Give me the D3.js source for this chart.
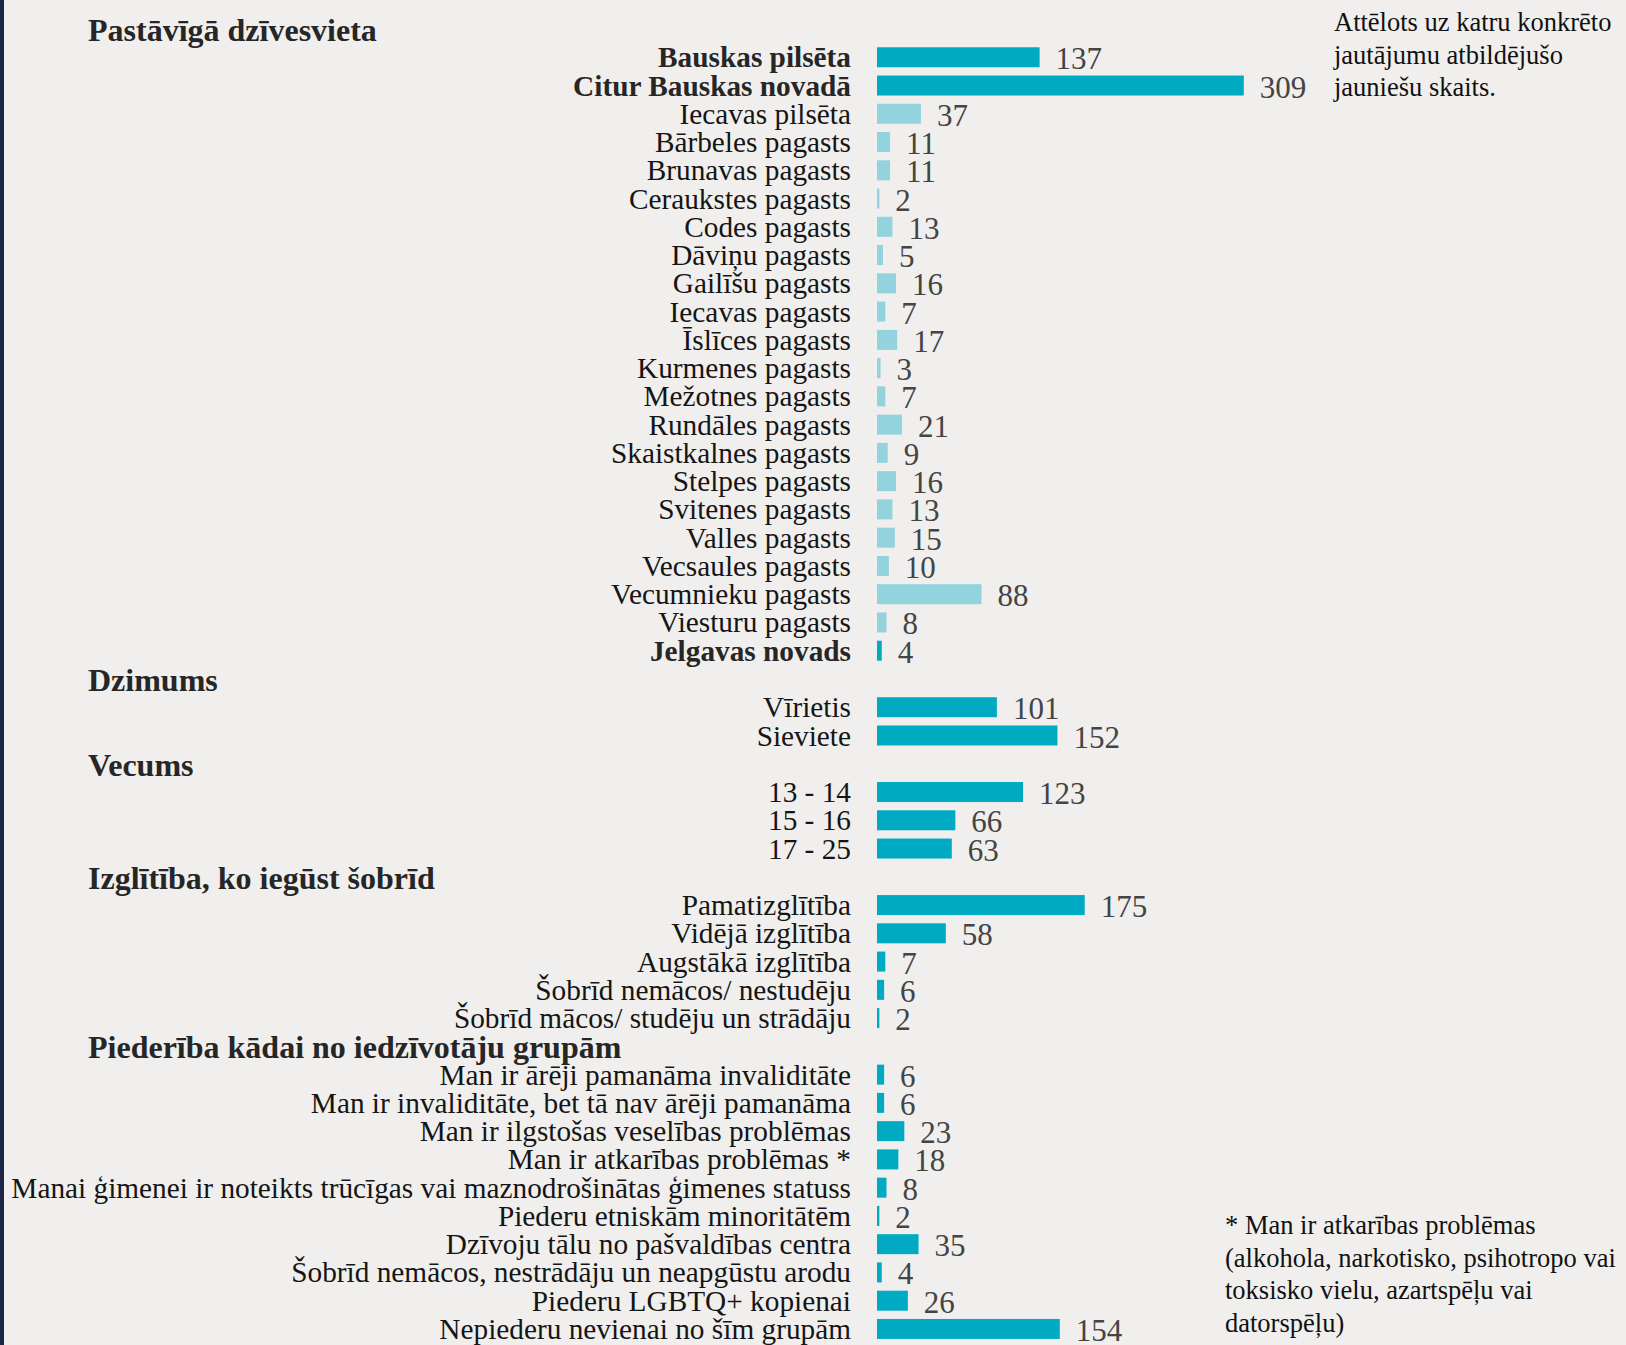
<!DOCTYPE html>
<html>
<head>
<meta charset="utf-8">
<script src="https://cdn.jsdelivr.net/npm/d3@7"></script>
<style>
  html, body { margin: 0; padding: 0; background: #F0EFED; }
  svg { display: block; }
</style>
</head>
<body>
<svg id="chart" width="1626" height="1345"></svg>
<script>
// ---- Data ----
const sectionTitles = ["Pastāvīgā dzīvesvieta", "Dzimums", "Vecums", "Izglītība, ko iegūst šobrīd", "Piederība kādai no iedzīvotāju grupām"];

const residenceLabels = ["Bauskas pilsēta", "Citur Bauskas novadā", "Iecavas pilsēta", "Bārbeles pagasts", "Brunavas pagasts", "Ceraukstes pagasts", "Codes pagasts", "Dāviņu pagasts", "Gailīšu pagasts", "Iecavas pagasts", "Īslīces pagasts", "Kurmenes pagasts", "Mežotnes pagasts", "Rundāles pagasts", "Skaistkalnes pagasts", "Stelpes pagasts", "Svitenes pagasts", "Valles pagasts", "Vecsaules pagasts", "Vecumnieku pagasts", "Viesturu pagasts", "Jelgavas novads"];
const residenceValues = [137, 309, 37, 11, 11, 2, 13, 5, 16, 7, 17, 3, 7, 21, 9, 16, 13, 15, 10, 88, 8, 4];
// hierarchy level: 0 = main area, 1 = sub-area of "Citur Bauskas novadā"
const residenceLevel = [0, 0, 1, 1, 1, 1, 1, 1, 1, 1, 1, 1, 1, 1, 1, 1, 1, 1, 1, 1, 1, 0];

const genderLabels = ["Vīrietis", "Sieviete"];
const genderValues = [101, 152];

const ageLabels = ["13 - 14", "15 - 16", "17 - 25"];
const ageValues = [123, 66, 63];

const educationLabels = ["Pamatizglītība", "Vidējā izglītība", "Augstākā izglītība", "Šobrīd nemācos/ nestudēju", "Šobrīd mācos/ studēju un strādāju"];
const educationValues = [175, 58, 7, 6, 2];

const groupLabels = ["Man ir ārēji pamanāma invaliditāte", "Man ir invaliditāte, bet tā nav ārēji pamanāma", "Man ir ilgstošas veselības problēmas", "Man ir atkarības problēmas *", "Manai ģimenei ir noteikts trūcīgas vai maznodrošinātas ģimenes statuss", "Piederu etniskām minoritātēm", "Dzīvoju tālu no pašvaldības centra", "Šobrīd nemācos, nestrādāju un neapgūstu arodu", "Piederu LGBTQ+ kopienai", "Nepiederu nevienai no šīm grupām"];
const groupValues = [6, 6, 23, 18, 8, 2, 35, 4, 26, 154];

const noteTop = ["Attēlots uz katru konkrēto", "jautājumu atbildējušo", "jauniešu skaits."];
const noteBottom = ["* Man ir atkarības problēmas", "(alkohola, narkotisko, psihotropo vai", "toksisko vielu, azartspēļu vai", "datorspēļu)"];

// ---- Build rows ----
const sections = [
  { title: sectionTitles[0], labels: residenceLabels, values: residenceValues, level: residenceLevel },
  { title: sectionTitles[1], labels: genderLabels, values: genderValues },
  { title: sectionTitles[2], labels: ageLabels, values: ageValues },
  { title: sectionTitles[3], labels: educationLabels, values: educationValues },
  { title: sectionTitles[4], labels: groupLabels, values: groupValues }
];
const rows = [];
sections.forEach((s, si) => {
  rows.push({ type: "header", label: s.title });
  s.labels.forEach((l, i) => {
    const lvl = s.level ? s.level[i] : 0;
    rows.push({ type: "bar", label: l, value: s.values[i], level: lvl, bold: si === 0 && lvl === 0 });
  });
});

// ---- Layout ----
const W = 1626, H = 1345;
const svg = d3.select("#chart");
const pitch = 28.26;
const firstCenter = 29;

svg.append("rect").attr("x", 0).attr("y", 0).attr("width", W).attr("height", H).attr("fill", "#F0EFED");
svg.append("rect").attr("x", 0).attr("y", 0).attr("width", 4).attr("height", H).attr("fill", "#1C2648");

const y = d3.scaleBand()
  .domain(d3.range(rows.length))
  .range([firstCenter - pitch / 2, firstCenter - pitch / 2 + pitch * rows.length])
  .paddingInner(0).paddingOuter(0);

const x = d3.scaleLinear().domain([0, 309]).range([877, 877 + 309 * 1.187]);

const barH = 20;
const font = "'Liberation Serif', 'Times New Roman', Times, serif";
const cy = i => y(i) + y.bandwidth() / 2;

const g = svg.append("g");

rows.forEach((r, i) => {
  if (r.type === "header") {
    g.append("text")
      .attr("x", 88).attr("y", cy(i) + 12)
      .attr("font-family", font).attr("font-size", 32).attr("font-weight", "bold")
      .attr("fill", "#262626")
      .text(r.label);
  }
});

const barRows = rows.map((r, i) => Object.assign({ i }, r)).filter(r => r.type === "bar");

g.selectAll("rect.bar").data(barRows).join("rect")
  .attr("class", "bar")
  .attr("x", x(0))
  .attr("y", d => cy(d.i) - barH / 2)
  .attr("width", d => x(d.value) - x(0))
  .attr("height", barH)
  .attr("fill", d => d.level === 1 ? "#92D3DE" : "#00AAC3");

g.selectAll("text.lab").data(barRows).join("text")
  .attr("class", "lab")
  .attr("x", 851)
  .attr("y", d => cy(d.i) + 10)
  .attr("text-anchor", "end")
  .attr("font-family", font).attr("font-size", 29.3)
  .attr("font-weight", d => d.bold ? "bold" : "normal")
  .attr("fill", d => d.bold ? "#262626" : "#151515")
  .text(d => d.label);

g.selectAll("text.val").data(barRows).join("text")
  .attr("class", "val")
  .attr("x", d => x(d.value) + 16)
  .attr("y", d => cy(d.i) + 12)
  .attr("font-family", font).attr("font-size", 31)
  .attr("fill", "#444444")
  .text(d => d3.format("d")(d.value));

// ---- Notes ----
g.selectAll("text.nt").data(noteTop).join("text")
  .attr("class", "nt")
  .attr("x", 1334).attr("y", (d, i) => 31 + i * 32.5)
  .attr("font-family", font).attr("font-size", 26.5)
  .attr("fill", "#111111")
  .text(d => d);

g.selectAll("text.nb").data(noteBottom).join("text")
  .attr("class", "nb")
  .attr("x", 1225).attr("y", (d, i) => 1234 + i * 32.5)
  .attr("font-family", font).attr("font-size", 26.5)
  .attr("fill", "#111111")
  .text(d => d);
</script>
</body>
</html>
